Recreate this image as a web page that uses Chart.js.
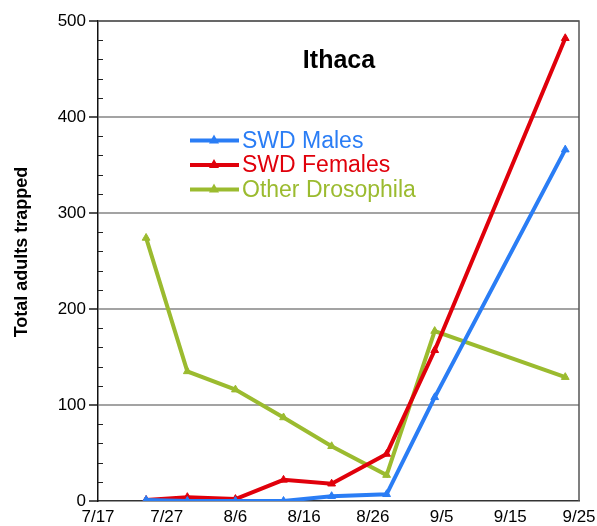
<!DOCTYPE html>
<html>
<head>
<meta charset="utf-8">
<script src="https://cdn.jsdelivr.net/npm/chart.js@4/dist/chart.umd.min.js"></script>
<style>
  html, body { margin: 0; padding: 0; background: #fff; }
  #wrap { width: 597px; height: 526px; }
</style>
</head>
<body>
<div id="wrap"><canvas id="ithaca" width="597" height="526"></canvas></div>
<script>
// trap dates (sampling days) and counts
const sampleDates = ['7/24', '7/30', '8/6', '8/13', '8/20', '8/28', '9/4', '9/23'];
const swdMales = [1, 0, 0, 0, 5, 7, 108, 366];
const swdFemales = [1, 4, 2, 22, 18, 49, 157, 482];
const otherDrosophila = [274, 135, 116, 87, 57, 27, 177, 129];
const xTickLabels = ['7/17', '7/27', '8/6', '8/16', '8/26', '9/5', '9/15', '9/25'];

const FONT = '"Liberation Sans", Arial, sans-serif';
const BLUE = '#2a7df5';
const RED = '#e0000b';
const GREEN = '#9bbb2f';

// days since 7/17 (x axis is a plain number scale)
function dayOf(str) {
  let [m, d] = str.split('/').map(Number);
  let start = Date.UTC(2020, 6, 17);
  return Math.round((Date.UTC(2020, m - 1, d) - start) / 86400000);
}

function toPoints(values) {
  return values.map((v, i) => ({ x: dayOf(sampleDates[i]), y: v }));
}

function series(label, values, color) {
  return {
    label: label,
    data: toPoints(values),
    borderColor: color,
    backgroundColor: color,
    pointBackgroundColor: color,
    pointBorderColor: color,
    borderWidth: 4,
    pointStyle: 'triangle',
    pointRadius: 4.5,
    pointBorderWidth: 1,
    tension: 0,
    fill: false
  };
}

// extras: plot frame, minor ticks, title, y label, legend box
const extras = {
  id: 'extras',
  afterDraw(chart) {
    let ctx = chart.ctx;
    let area = chart.chartArea;
    let y = chart.scales.y;
    ctx.save();

    // frame on top/right
    ctx.strokeStyle = '#555';
    ctx.lineWidth = 1.5;
    ctx.beginPath();
    ctx.moveTo(area.left, area.top);
    ctx.lineTo(area.right, area.top);
    ctx.lineTo(area.right, area.bottom);
    ctx.stroke();

    // minor ticks inside the y axis
    ctx.strokeStyle = '#222';
    ctx.lineWidth = 1;
    for (let v = 20; v < 500; v += 20) {
      if (v % 100 === 0) continue;
      let py = Math.round(y.getPixelForValue(v)) + 0.5;
      ctx.beginPath();
      ctx.moveTo(area.left, py);
      ctx.lineTo(area.left + 5, py);
      ctx.stroke();
    }

    // title
    ctx.fillStyle = '#000';
    ctx.font = 'bold 25px ' + FONT;
    ctx.textAlign = 'center';
    ctx.textBaseline = 'middle';
    ctx.fillText('Ithaca', 339, 61);

    // y axis title
    ctx.save();
    ctx.translate(22, 252);
    ctx.rotate(-Math.PI / 2);
    ctx.font = 'bold 18px ' + FONT;
    ctx.fillText('Total adults trapped', 0, 0);
    ctx.restore();

    // legend
    let rows = chart.data.datasets;
    ctx.textAlign = 'left';
    ctx.font = '23px ' + FONT;
    rows.forEach((ds, i) => {
      let ly = 140.5 + i * 24.5;
      ctx.strokeStyle = ds.borderColor;
      ctx.lineWidth = 4;
      ctx.beginPath();
      ctx.moveTo(190, ly);
      ctx.lineTo(239, ly);
      ctx.stroke();
      ctx.fillStyle = ds.borderColor;
      ctx.beginPath();
      ctx.moveTo(214, ly - 6);
      ctx.lineTo(219, ly + 3);
      ctx.lineTo(209, ly + 3);
      ctx.closePath();
      ctx.fill();
      ctx.fillText(ds.label, 242, ly + 1);
    });
    ctx.restore();
  }
};

const chart = new Chart(document.getElementById('ithaca'), {
  type: 'line',
  data: {
    datasets: [
      series('SWD Males', swdMales, BLUE),
      series('SWD Females', swdFemales, RED),
      series('Other Drosophila', otherDrosophila, GREEN)
    ]
  },
  options: {
    responsive: false,
    animation: false,
    layout: { padding: { top: 21, right: 18, left: 0, bottom: 0 } },
    plugins: {
      legend: { display: false },
      tooltip: { enabled: false }
    },
    scales: {
      x: {
        type: 'linear',
        min: 0,
        max: 70,
        afterFit(scale) {
          scale.height = 25;
          scale.paddingRight = 0;
          scale.paddingLeft = 0;
        },
        afterBuildTicks(scale) {
          scale.ticks = xTickLabels.map((t, i) => ({ value: i * 10 }));
        },
        ticks: {
          autoSkip: false,
          maxRotation: 0,
          padding: 6,
          color: '#000',
          font: { family: FONT, size: 17 },
          callback: (v) => xTickLabels[Math.round(v / 10)]
        },
        grid: { display: true, drawOnChartArea: false, drawTicks: false },
        border: { color: '#333', width: 1.5 }
      },
      y: {
        min: 0,
        max: 500,
        afterFit(scale) {
          scale.width = 98;
          scale.paddingTop = 0;
          scale.paddingBottom = 0;
        },
        ticks: {
          stepSize: 20,
          autoSkip: false,
          padding: 3,
          color: '#000',
          font: { family: FONT, size: 17 },
          callback: (v) => (v % 100 === 0 ? v : '')
        },
        grid: {
          color: (c) => (c.tick && c.tick.value % 100 === 0 && c.tick.value > 0 ? '#a3a3a3' : 'transparent'),
          tickColor: (c) => (c.tick && c.tick.value % 100 === 0 ? '#555' : 'transparent'),
          lineWidth: 2,
          tickLength: 9
        },
        border: { color: '#111', width: 1.5 }
      }
    }
  },
  plugins: [extras]
});
</script>
</body>
</html>
